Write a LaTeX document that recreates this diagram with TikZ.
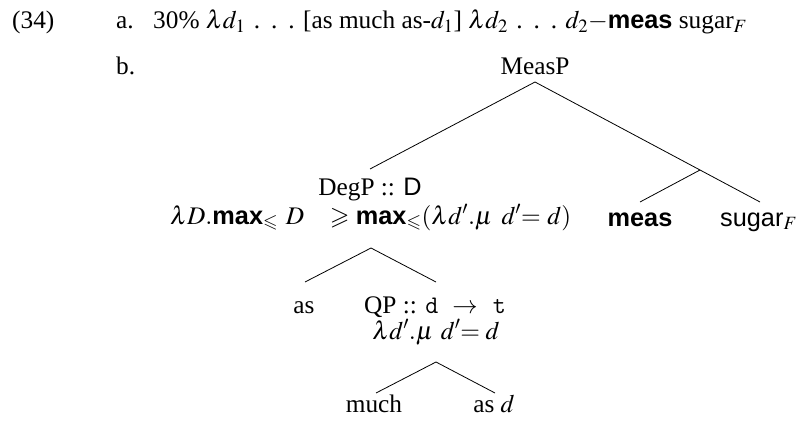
\documentclass[tikz,border=0pt]{standalone}
\usepackage{amssymb}
\usepackage{mathptmx}
\usepackage{fontspec}
\setmainfont{Liberation Serif}
\setsansfont{Liberation Sans}
\newcommand{\bsf}[1]{\mbox{\bfseries\sffamily #1}}
\newcommand{\wdots}{\hspace{0.22em plus 0.5fil}.\hspace{0.32em plus 0.5fil}.\hspace{0.32em plus 0.5fil}.\hspace{0.22em plus 0.5fil}}
\tikzset{
  lbl/.style={anchor=base, inner sep=0pt, font=\fontsize{25.3}{30}\selectfont},
  lblw/.style={lbl, anchor=base west},
  branch/.style={line width=0.8pt}
}
\begin{document}
\begin{tikzpicture}[x=1pt,y=-1pt]
\useasboundingbox (0,0) rectangle (802,425);
% header
\node[lblw] (n34) at (12,29) {(34)};
\node[lblw] (la) at (116,29) {a.};
\node[lblw] (linea) at (153,29) {\makebox[594pt][s]{30\% $\lambda d_{1}$\wdots[as much as-$d_{1}$] $\lambda d_{2}$\wdots$d_{2}{-}$\bsf{meas} sugar$_F$}};
\node[lblw] (lb) at (116,75) {b.};
% tree nodes
\node[lbl] (measP) at (535,75) {MeasP};
\node[lbl] (degP) at (370,195) {DegP :: \textsf{D}};
\node[lblw] (degPsem) at (170,224) {\makebox[401pt][s]{$\lambda D.$\bsf{max}$_{\leqslant}$\hspace{0.3em}$D$\hspace{0.9em plus 1fil}$\geqslant$\hspace{0.25em}\bsf{max}$_{\leqslant}(\lambda d'.\mu$\hspace{0.3em plus 0.5fil}$d'{=}$\hspace{0.2em plus 0.5fil}$d)$}};
\node[lbl] (meas) at (640,226) {\bsf{meas}};
\node[lblw] (sugar) at (720,226) {\textsf{sugar}$_F$};
\node[lbl] (as) at (304,313) {as};
\node[lbl] (qp) at (435,313) {QP :: \texttt{d}\hspace{0.55em}$\rightarrow$\hspace{0.6em}\texttt{t}};
\node[lbl] (qpsem) at (436,339) {$\lambda d'.\mu$\hspace{0.3em}$d'{=}$\hspace{0.22em}$d$};
\node[lbl] (much) at (374,412) {much};
\node[lbl] (asd) at (494,412) {as $d$};
% branch points
\coordinate (measPb) at (535,82);
\coordinate (degPt) at (370,169);
\coordinate (xnode) at (700,170);
\coordinate (meast) at (640,202);
\coordinate (sugart) at (760,202);
\coordinate (degPb) at (371,248);
\coordinate (ast) at (305,282);
\coordinate (qpt) at (436,282);
\coordinate (qpb) at (436,362);
\coordinate (mucht) at (376,393);
\coordinate (asdt) at (495,393);
% branches
\draw[branch] (measPb) -- (degPt);
\draw[branch] (measPb) -- (xnode);
\draw[branch] (xnode) -- (meast);
\draw[branch] (xnode) -- (sugart);
\draw[branch] (degPb) -- (ast);
\draw[branch] (degPb) -- (qpt);
\draw[branch] (qpb) -- (mucht);
\draw[branch] (qpb) -- (asdt);
\end{tikzpicture}
\end{document}
